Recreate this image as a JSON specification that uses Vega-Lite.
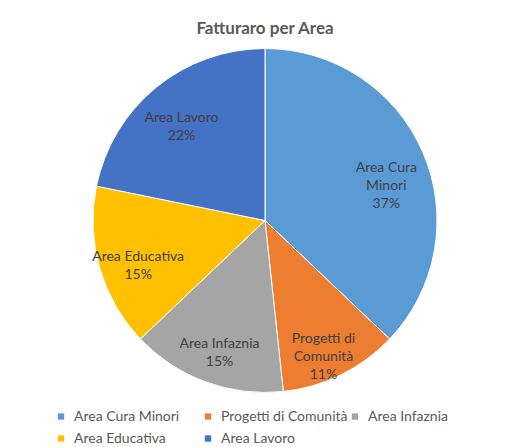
{
  "$schema": "https://vega.github.io/schema/vega-lite/v6.json",
  "autosize": {"type": "none"},
  "width": 500,
  "height": 400,
  "padding": {"left": 15, "top": 20.5, "right": 0, "bottom": 30},
  "background": "white",
  "title": {
    "text": "Fatturaro per Area",
    "font": "Lato",
    "fontSize": 17,
    "fontWeight": "bold",
    "color": "#595959",
    "anchor": "middle",
    "offset": -17
  },
  "data": {
    "values": [
      {"ord": 1, "area": "Area Cura Minori", "valore": 37.1, "label": "Area Cura\nMinori\n37%"},
      {"ord": 2, "area": "Progetti di Comunità", "valore": 11.2, "label": "Progetti di\nComunità\n11%"},
      {"ord": 3, "area": "Area Infaznia", "valore": 14.6, "label": "Area Infaznia\n15%"},
      {"ord": 4, "area": "Area Educativa", "valore": 15.3, "label": "Area Educativa\n15%"},
      {"ord": 5, "area": "Area Lavoro", "valore": 21.8, "label": "Area Lavoro\n22%"}
    ]
  },
  "layer": [
    {
      "mark": {"type": "arc", "outerRadius": 172, "stroke": "white", "strokeWidth": 1},
      "encoding": {
        "theta": {"field": "valore", "type": "quantitative", "stack": true},
        "order": {"field": "ord", "type": "quantitative"},
        "color": {
          "field": "area",
          "type": "nominal",
          "sort": ["Area Cura Minori", "Progetti di Comunità", "Area Infaznia", "Area Educativa", "Area Lavoro"],
          "scale": {
            "domain": ["Area Cura Minori", "Progetti di Comunità", "Area Infaznia", "Area Educativa", "Area Lavoro"],
            "range": ["#5B9BD5", "#ED7D31", "#A5A5A5", "#FFC000", "#4472C4"]
          },
          "legend": {
            "orient": "none",
            "legendX": 39,
            "legendY": 389,
            "padding": 0,
            "direction": "horizontal",
            "columns": 3,
            "gridAlign": "all",
            "columnPadding": 0,
            "rowPadding": 8,
            "title": null,
            "symbolType": "square",
            "symbolSize": 40,
            "symbolStrokeWidth": 0,
            "labelFont": "Lato",
            "labelFontSize": 14,
            "labelColor": "#595959",
            "labelOffset": 6,
            "labelLimit": 200
          }
        }
      }
    },
    {
      "mark": {
        "type": "text",
        "radius": 132,
        "font": "Lato",
        "fontSize": 14,
        "fill": "#404040",
        "lineBreak": "\n",
        "lineHeight": 18
      },
      "encoding": {
        "theta": {"field": "valore", "type": "quantitative", "stack": true},
        "order": {"field": "ord", "type": "quantitative"},
        "detail": {"field": "area", "type": "nominal"},
        "text": {"field": "label", "type": "nominal"}
      }
    }
  ],
  "config": {"view": {"stroke": null}}
}
